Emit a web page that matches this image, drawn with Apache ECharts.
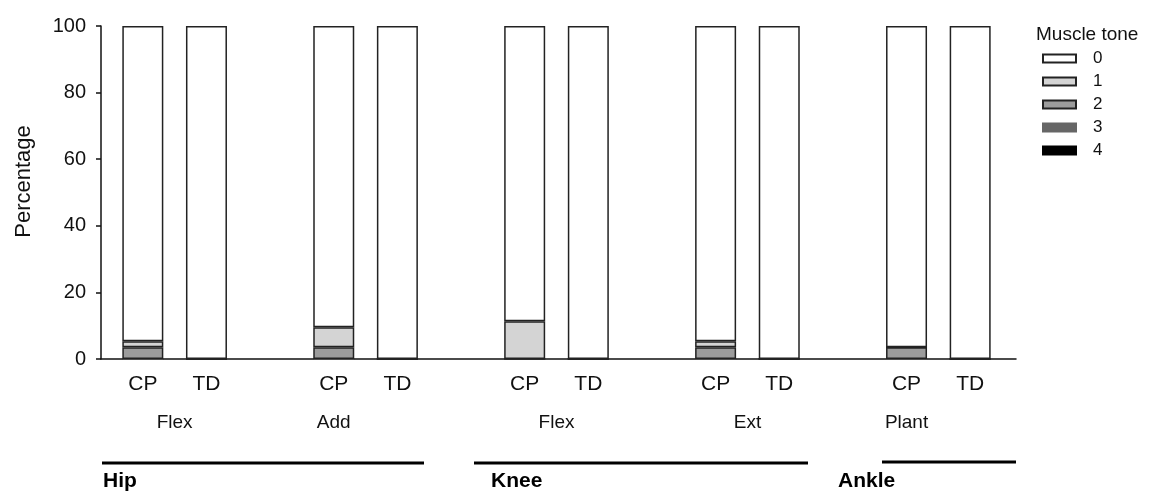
<!DOCTYPE html>
<html>
<head>
<meta charset="utf-8">
<script src="https://cdn.jsdelivr.net/npm/echarts@6/dist/echarts.min.js"></script>
<style>html,body{margin:0;padding:0;background:#fff}#c{width:1166px;height:495px}</style>
</head>
<body>
<div id="c"></div>
<script>
// ---- data ----
var categories = ['CP','TD','','CP','TD','','CP','TD','','CP','TD','','CP','TD'];
var tone0 = [94.7, 100, '-', 90.5, 100, '-', 88.7, 100, '-', 94.7, 100, '-', 96.5, 100];
var tone1 = [1.8, 0, '-', 6.0, 0, '-', 11.3, 0, '-', 1.8, 0, '-', 0, 0];
var tone2 = [3.5, 0, '-', 3.5, 0, '-', 0, 0, '-', 3.5, 0, '-', 3.5, 0];
var tone3 = [0, 0, '-', 0, 0, '-', 0, 0, '-', 0, 0, '-', 0, 0];
var tone4 = [0, 0, '-', 0, 0, '-', 0, 0, '-', 0, 0, '-', 0, 0];
var toneNames = ['0','1','2','3','4'];
var toneColors = ['#ffffff','#d4d4d4','#9c9c9c','#666666','#000000'];
// muscle labels on half-slot positions (29 points across 14 slots)
var muscleLabels = ['', '', 'Flex', '', '', '', '', 'Add', '', '', '', '', '', '', 'Flex', '', '', '', '', '', 'Ext', '', '', '', '', 'Plant', '', '', ''];
var yTicks = [0, 20, 40, 60, 80, 100];
var jointNames = ['Hip', 'Knee', 'Ankle'];

var FONT = '"Liberation Sans", Arial, sans-serif';
var chart = echarts.init(document.getElementById('c'));
var series = [];
var toneData = [tone4, tone3, tone2, tone1, tone0];
var order = [4,3,2,1,0];
order.forEach(function(t, i){
  series.push({
    name: toneNames[t], type: 'bar', stack: 's', xAxisIndex: 1, yAxisIndex: 1,
    data: toneData[i], barWidth: 41,
    itemStyle: { color: toneColors[t], borderColor: t >= 3 ? toneColors[t] : '#222', borderWidth: 1.5 },
    emphasis: { disabled: true }, animation: false
  });
});

var option = {
  animation: false,
  title: { text: 'Muscle tone', left: 1036, top: 25, padding: 0, textStyle: { fontFamily: FONT, fontSize: 19, fontWeight: 'normal', color: '#111' } },
  legend: {
    data: toneNames, orient: 'vertical', left: 1042, top: 50, padding: 0,
    itemWidth: 33, itemHeight: 8, itemGap: 6, icon: 'rect',
    textStyle: { fontFamily: FONT, fontSize: 17, lineHeight: 17, color: '#111', padding: [0,0,0,12] },
    selectedMode: false
  },
  grid: [
    { left: 101, right: 150, top: 26, bottom: 136 },
    { left: 111, width: 891, top: 26, bottom: 136 }
  ],
  xAxis: [
    { type: 'value', gridIndex: 0, min: 0, max: 1, axisLine: { show: true, lineStyle: { color: '#111', width: 1.5 } }, axisTick: { show: false }, axisLabel: { show: false }, splitLine: { show: false } },
    { type: 'category', gridIndex: 1, data: categories, axisLine: { show: false }, axisTick: { show: false },
      axisLabel: { interval: 0, margin: 15, fontFamily: FONT, fontSize: 21, color: '#111' } },
    { type: 'category', gridIndex: 1, position: 'bottom', boundaryGap: false, data: muscleLabels, axisLine: { show: false }, axisTick: { show: false },
      axisLabel: { interval: 0, margin: 54, fontFamily: FONT, fontSize: 19, color: '#111' } }
  ],
  yAxis: [
    { type: 'value', gridIndex: 0, min: yTicks[0], max: yTicks[yTicks.length-1], interval: 20,
      name: 'Percentage', nameLocation: 'middle', nameGap: 66, nameTextStyle: { fontFamily: FONT, fontSize: 22, color: '#111', padding: [0,0,0,22] },
      axisLine: { show: true, lineStyle: { color: '#111', width: 1.5 } },
      axisTick: { show: true, length: 5, lineStyle: { color: '#111', width: 1.5 } },
      axisLabel: { margin: 15, fontFamily: FONT, fontSize: 20, color: '#111' }, splitLine: { show: false } },
    { type: 'value', gridIndex: 1, min: 0, max: 100, show: false }
  ],
  graphic: [
    { type: 'line', shape: { x1: 102, y1: 463, x2: 424, y2: 463 }, style: { stroke: '#000', lineWidth: 3 } },
    { type: 'line', shape: { x1: 474, y1: 463, x2: 808, y2: 463 }, style: { stroke: '#000', lineWidth: 3 } },
    { type: 'line', shape: { x1: 882, y1: 462, x2: 1016, y2: 462 }, style: { stroke: '#000', lineWidth: 3 } },
    { type: 'text', left: 103, top: 471, style: { text: jointNames[0], font: 'bold 21px ' + FONT, fill: '#000' } },
    { type: 'text', left: 491, top: 471, style: { text: jointNames[1], font: 'bold 21px ' + FONT, fill: '#000' } },
    { type: 'text', left: 838, top: 471, style: { text: jointNames[2], font: 'bold 21px ' + FONT, fill: '#000' } }
  ],
  series: series
};
chart.setOption(option);
</script>
</body>
</html>
